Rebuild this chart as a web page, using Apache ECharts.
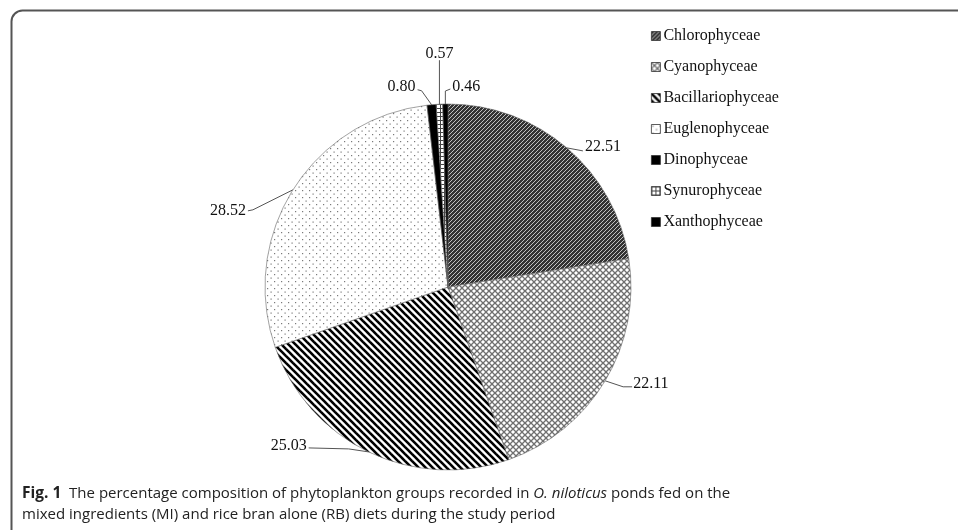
<!DOCTYPE html>
<html>
<head>
<meta charset="utf-8">
<script src="https://cdn.jsdelivr.net/npm/echarts@6/dist/echarts.min.js"></script>
<style>
html,body{margin:0;padding:0;background:#fff;}
#chart{width:958px;height:530px;}
</style>
</head>
<body>
<div id="chart"></div>
<script>
// ---- data ----
var categories = ['Chlorophyceae','Cyanophyceae','Bacillariophyceae','Euglenophyceae','Dinophyceae','Synurophyceae','Xanthophyceae'];
var values = [22.51, 22.11, 25.03, 28.52, 0.80, 0.57, 0.46];
var valueLabels = ['22.51','22.11','25.03','28.52','0.80','0.57','0.46'];

// ---- patterns ----
function tile(w, h, draw){
  var c = document.createElement('canvas');
  c.width = w; c.height = h;
  var g = c.getContext('2d');
  draw(g, w, h);
  return {image: c, repeat: 'repeat'};
}
function line(g, x1, y1, x2, y2){ g.beginPath(); g.moveTo(x1,y1); g.lineTo(x2,y2); g.stroke(); }

var patChloro = tile(4,4,function(g,w,h){
  g.fillStyle='#333333'; g.fillRect(0,0,w,h);
  g.strokeStyle='#c0c0c0'; g.lineWidth=1.0;
  line(g,-1,w+1,w+1,-1); line(g,-1,1,1,-1); line(g,w-1,h+1,w+1,h-1);
});
var patCyano = tile(6,6,function(g,w,h){
  g.fillStyle='#ffffff'; g.fillRect(0,0,w,h);
  g.strokeStyle='#707070'; g.lineWidth=1.3;
  line(g,-1,-1,w+1,h+1); line(g,-1,h+1,w+1,-1);
});
var patBacill = tile(7,7,function(g,w,h){
  g.fillStyle='#ffffff'; g.fillRect(0,0,w,h);
  g.strokeStyle='#000000'; g.lineWidth=2.6;
  line(g,-1,-1,w+1,h+1); line(g,-2,h-2,2,h+2); line(g,w-2,-2,w+2,2);
});
var patEugleno = tile(7,7,function(g,w,h){
  g.fillStyle='#ffffff'; g.fillRect(0,0,w,h);
  g.fillStyle='#7a7a7a';
  g.fillRect(1,1,1.2,1.2); g.fillRect(4.5,4.5,1.2,1.2);
});
var patSynuro = tile(4,4,function(g,w,h){
  g.fillStyle='#ffffff'; g.fillRect(0,0,w,h);
  g.fillStyle='#444444';
  g.fillRect(0,0,w,1); g.fillRect(0,0,1,h);
});
var fills = [patChloro, patCyano, patBacill, patEugleno, '#000000', patSynuro, '#000000'];

var seriesData = categories.map(function(name, i){
  return {name: name, value: values[i], itemStyle: {color: fills[i]}};
});

// label layout offsets relative to the slice edge point (style only)
var labelOffsets = [
  {pts:[[16,3]], dx:18, dy:-1, align:'left'},
  {pts:[[18,6],[27,6]], dx:28, dy:3, align:'left'},
  {pts:[[-20,-3],[-60,-4]], dx:-62, dy:-6, align:'right'},
  {pts:[[-40,20],[-45,21]], dx:-47, dy:21, align:'right'},
  {pts:[[-10,-14],[-14,-15]], dx:-16, dy:-18, align:'right'},
  {pts:[[0,-44]], dx:0, dy:-50, align:'center'},
  {pts:[[0,-13],[5,-15]], dx:7, dy:-17, align:'left'}
];

var chart = echarts.init(document.getElementById('chart'), null, {renderer:'canvas'});
chart.setOption({
  animation: false,
  backgroundColor: '#ffffff',
  legend: {
    orient: 'vertical',
    left: 646,
    top: 23,
    itemWidth: 9,
    itemHeight: 9,
    itemGap: 15,
    icon: 'rect',
    data: categories,
    itemStyle: {borderColor: '#333', borderWidth: 0.8},
    textStyle: {fontFamily: '"Liberation Serif","Times New Roman",serif', fontSize: 16, color: '#111', lineHeight: 16, padding: [0,0,0,-2]}
  },
  series: [{
    type: 'pie',
    center: [448, 287],
    radius: 183,
    startAngle: 90,
    clockwise: true,
    avoidLabelOverlap: false,
    data: seriesData,
    itemStyle: {borderColor: '#666', borderWidth: 0.6},
    emphasis: {disabled: true},
    label: {
      show: true,
      position: 'outside',
      formatter: function(p){ return valueLabels[p.dataIndex]; },
      fontFamily: '"Liberation Serif","Times New Roman",serif',
      fontSize: 16,
      color: '#111'
    },
    labelLine: {show: true, length: 10, length2: 10, lineStyle: {color: '#555', width: 1}},
    labelLayout: function(params){
      var o = labelOffsets[params.dataIndex];
      var p0 = params.labelLinePoints ? params.labelLinePoints[0] : null;
      if (!o || !p0) return {};
      var pts = [[p0[0], p0[1]]];
      o.pts.forEach(function(d){ pts.push([p0[0]+d[0], p0[1]+d[1]]); });
      if (pts.length === 2) pts.push(pts[1].slice());
      return {
        x: p0[0] + o.dx,
        y: p0[1] + o.dy,
        align: o.align,
        verticalAlign: 'middle',
        labelLinePoints: pts
      };
    }
  }],
  graphic: [
    {
      type: 'rect',
      shape: {x: 11.5, y: 10.5, width: 1200, height: 800, r: [11, 0, 0, 0]},
      style: {fill: 'none', stroke: '#555', lineWidth: 2},
      silent: true
    },
    {
      type: 'text',
      left: 22,
      top: 486,
      style: {
        text: '{b|Fig. 1}{n|  The percentage composition of phytoplankton groups recorded in }{i|O. niloticus}{n| ponds fed on the}\n{n|mixed ingredients (MI) and rice bran alone (RB) diets during the study period}',
        rich: {
          b: {fontFamily: '"Open Sans","Noto Sans",sans-serif', fontSize: 15.5, fontWeight: 'bold', fill: '#222', lineHeight: 21},
          n: {fontFamily: '"Open Sans","Noto Sans",sans-serif', fontSize: 15, fill: '#222', lineHeight: 21},
          i: {fontFamily: '"Open Sans","Noto Sans",sans-serif', fontSize: 15, fontStyle: 'italic', fill: '#222', lineHeight: 21}
        }
      }
    }
  ]
});
</script>
</body>
</html>
